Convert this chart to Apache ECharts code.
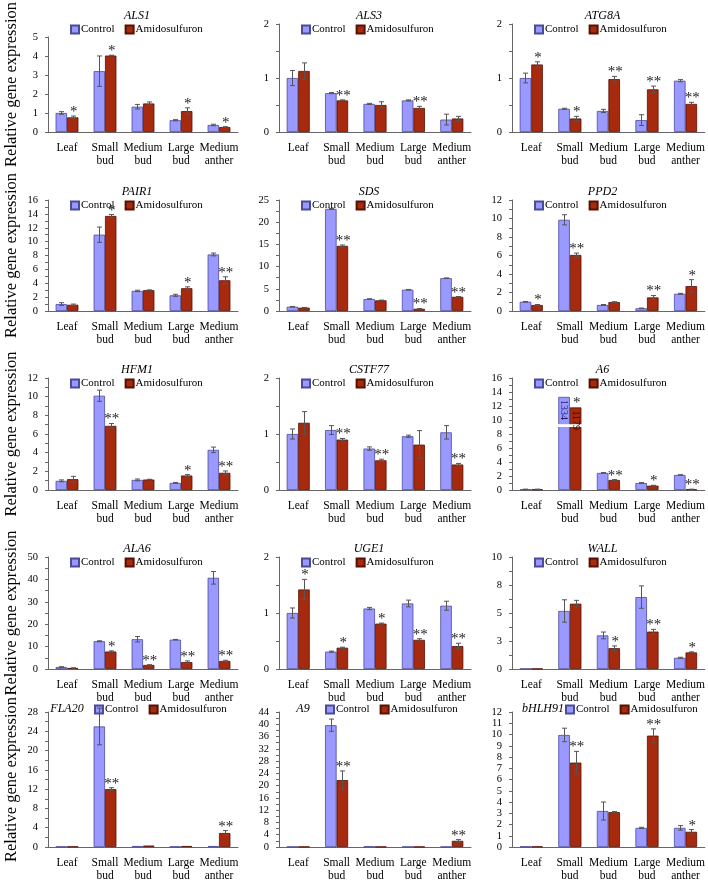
<!DOCTYPE html>
<html><head><meta charset="utf-8">
<script src="https://cdn.jsdelivr.net/npm/echarts@6/dist/echarts.min.js"></script>
<style>html,body{margin:0;padding:0;background:#fff}#main{width:708px;height:884px}</style>
</head><body><div id="main"></div>
<script>
const categories = ['Leaf', 'Small\nbud', 'Medium\nbud', 'Large\nbud', 'Medium\nanther'];
const seriesNames = ['Control', 'Amidosulfuron'];
const genes = ['ALS1','ALS3','ATG8A','PAIR1','SDS','PPD2','HFM1','CSTF77','A6','ALA6','UGE1','WALL','FLA20','A9','bHLH91'];
const yMax      = [5, 2, 2, 16, 25, 12, 12, 2, 16, 50, 2, 10, 28, 44, 12];
const yInterval = [1, 1, 1, 2, 5, 2, 2, 1, 2, 10, 1, 2.5, 4, 4, 1];
const yMinor    = [1, 2, 2, 2, 2, 2, 2, 2, 2, 2, 2, 2, 2, 2, 1];

const ALS1_control = [1.0, 3.2, 1.33, 0.62, 0.37];
const ALS1_controlErr = [0.07, 0.8, 0.12, 0.03, 0.04];
const ALS1_amido = [0.77, 4.02, 1.5, 1.1, 0.26];
const ALS1_amidoErr = [0.07, 0.02, 0.08, 0.17, 0.02];
const ALS1_stars = ['*', '*', '', '*', '*'];

const ALS3_control = [1.0, 0.72, 0.52, 0.585, 0.23];
const ALS3_controlErr = [0.14, 0.01, 0.01, 0.01, 0.1];
const ALS3_amido = [1.13, 0.585, 0.5, 0.445, 0.25];
const ALS3_amidoErr = [0.15, 0.01, 0.06, 0.03, 0.04];
const ALS3_stars = ['', '**', '', '**', ''];

const ATG8A_control = [1.0, 0.43, 0.39, 0.22, 0.95];
const ATG8A_controlErr = [0.09, 0.01, 0.03, 0.1, 0.02];
const ATG8A_amido = [1.25, 0.25, 0.98, 0.79, 0.52];
const ATG8A_amidoErr = [0.05, 0.04, 0.05, 0.06, 0.03];
const ATG8A_stars = ['*', '*', '**', '**', '**'];

const PAIR1_control = [1.0, 11.0, 2.9, 2.26, 8.15];
const PAIR1_controlErr = [0.2, 1.1, 0.1, 0.15, 0.2];
const PAIR1_amido = [0.9, 13.7, 3.0, 3.28, 4.43];
const PAIR1_amidoErr = [0.1, 0.2, 0.05, 0.2, 0.5];
const PAIR1_stars = ['', '*', '', '*', '**'];

const SDS_control = [0.97, 23.0, 2.7, 4.8, 7.4];
const SDS_controlErr = [0.05, 0.1, 0.05, 0.05, 0.05];
const SDS_amido = [0.75, 14.67, 2.4, 0.5, 3.2];
const SDS_amidoErr = [0.05, 0.2, 0.05, 0.05, 0.05];
const SDS_stars = ['', '**', '', '**', '**'];

const PPD2_control = [1.0, 9.86, 0.65, 0.29, 1.86];
const PPD2_controlErr = [0.03, 0.55, 0.05, 0.03, 0.05];
const PPD2_amido = [0.65, 6.06, 0.97, 1.47, 2.69];
const PPD2_amidoErr = [0.05, 0.2, 0.03, 0.2, 0.7];
const PPD2_stars = ['*', '**', '', '**', '*'];

const HFM1_control = [0.98, 10.1, 1.08, 0.76, 4.3];
const HFM1_controlErr = [0.1, 0.6, 0.1, 0.05, 0.3];
const HFM1_amido = [1.16, 6.87, 1.12, 1.55, 1.84];
const HFM1_amidoErr = [0.3, 0.25, 0.03, 0.1, 0.2];
const HFM1_stars = ['', '**', '', '*', '**'];

const CSTF77_control = [1.0, 1.07, 0.74, 0.96, 1.03];
const CSTF77_controlErr = [0.09, 0.08, 0.03, 0.02, 0.12];
const CSTF77_amido = [1.2, 0.9, 0.53, 0.81, 0.455];
const CSTF77_amidoErr = [0.2, 0.02, 0.02, 0.25, 0.02];
const CSTF77_stars = ['', '**', '**', '', '**'];

const A6_control = [0.1, 13.3, 2.44, 1.0, 2.15];
const A6_controlErr = [0.02, 0, 0.05, 0.05, 0.03];
const A6_amido = [0.1, 11.8, 1.43, 0.62, 0.1];
const A6_amidoErr = [0.02, 0, 0.05, 0.05, 0.02];
const A6_stars = ['', '*', '**', '*', '**'];
const A6_controlLabels = ['', '1334', '', '', ''];
const A6_amidoLabels = ['', '1179', '', '', ''];
const A6_breakRange = [9.0, 9.4];

const ALA6_control = [0.9, 12.4, 13.3, 13.1, 40.7];
const ALA6_controlErr = [0.1, 0.2, 1.2, 0.1, 2.8];
const ALA6_amido = [0.45, 7.8, 1.8, 3.1, 3.6];
const ALA6_amidoErr = [0.05, 0.3, 0.1, 0.5, 0.3];
const ALA6_stars = ['', '*', '**', '**', '**'];

const UGE1_control = [1.0, 0.31, 1.08, 1.17, 1.13];
const UGE1_controlErr = [0.09, 0.01, 0.02, 0.06, 0.08];
const UGE1_amido = [1.42, 0.38, 0.81, 0.52, 0.41];
const UGE1_amidoErr = [0.18, 0.01, 0.01, 0.02, 0.05];
const UGE1_stars = ['*', '*', '*', '**', '**'];

const WALL_control = [0.03, 5.18, 3.0, 6.42, 1.0];
const WALL_controlErr = [0, 1.0, 0.3, 1.0, 0.05];
const WALL_amido = [0.03, 5.83, 1.86, 3.34, 1.48];
const WALL_amidoErr = [0, 0.3, 0.2, 0.2, 0.05];
const WALL_stars = ['', '', '*', '**', '*'];

const FLA20_control = [0.1, 25.0, 0.2, 0.1, 0.2];
const FLA20_controlErr = [0, 3.8, 0, 0, 0];
const FLA20_amido = [0.1, 12.0, 0.3, 0.2, 2.9];
const FLA20_amidoErr = [0, 0.3, 0, 0, 0.5];
const FLA20_stars = ['', '**', '', '', '**'];

const A9_control = [0.1, 39.7, 0.2, 0.1, 0.1];
const A9_controlErr = [0, 2.0, 0, 0, 0];
const A9_amido = [0.1, 21.8, 0.1, 0.1, 2.0];
const A9_amidoErr = [0, 3.0, 0, 0, 0.4];
const A9_stars = ['', '**', '', '', '**'];

const bHLH91_control = [0.05, 9.96, 3.2, 1.7, 1.7];
const bHLH91_controlErr = [0, 0.6, 0.8, 0.05, 0.2];
const bHLH91_amido = [0.05, 7.5, 3.1, 9.9, 1.35];
const bHLH91_amidoErr = [0, 1.0, 0.05, 0.6, 0.2];
const bHLH91_stars = ['', '**', '', '**', '*'];

const geneData = {
  ALS1: [ALS1_control, ALS1_controlErr, ALS1_amido, ALS1_amidoErr, ALS1_stars],
  ALS3: [ALS3_control, ALS3_controlErr, ALS3_amido, ALS3_amidoErr, ALS3_stars],
  ATG8A: [ATG8A_control, ATG8A_controlErr, ATG8A_amido, ATG8A_amidoErr, ATG8A_stars],
  PAIR1: [PAIR1_control, PAIR1_controlErr, PAIR1_amido, PAIR1_amidoErr, PAIR1_stars],
  SDS: [SDS_control, SDS_controlErr, SDS_amido, SDS_amidoErr, SDS_stars],
  PPD2: [PPD2_control, PPD2_controlErr, PPD2_amido, PPD2_amidoErr, PPD2_stars],
  HFM1: [HFM1_control, HFM1_controlErr, HFM1_amido, HFM1_amidoErr, HFM1_stars],
  CSTF77: [CSTF77_control, CSTF77_controlErr, CSTF77_amido, CSTF77_amidoErr, CSTF77_stars],
  A6: [A6_control, A6_controlErr, A6_amido, A6_amidoErr, A6_stars],
  ALA6: [ALA6_control, ALA6_controlErr, ALA6_amido, ALA6_amidoErr, ALA6_stars],
  UGE1: [UGE1_control, UGE1_controlErr, UGE1_amido, UGE1_amidoErr, UGE1_stars],
  WALL: [WALL_control, WALL_controlErr, WALL_amido, WALL_amidoErr, WALL_stars],
  FLA20: [FLA20_control, FLA20_controlErr, FLA20_amido, FLA20_amidoErr, FLA20_stars],
  A9: [A9_control, A9_controlErr, A9_amido, A9_amidoErr, A9_stars],
  bHLH91: [bHLH91_control, bHLH91_controlErr, bHLH91_amido, bHLH91_amidoErr, bHLH91_stars]
};

const FONT = "'Liberation Serif', 'Times New Roman', serif";
const colLeft = [48, 279, 512];
const colRight = [238, 471, 705];
const rowTop = [24, 200, 378, 557, 712];
const rowBottom = [132, 311, 490, 669, 847];
const lastTitleX = [62, 298, 538];
const lastLegendX = [89, 320, 560];
const CTRL_COLOR = '#9999FF', CTRL_BORDER = '#4b4b9a';
const AMI_COLOR = '#A82A0E', AMI_BORDER = '#561004';
const BAR_FRAC = 0.3;

const chart = echarts.init(document.getElementById('main'), null, {renderer: 'canvas'});
const grid = [], xAxis = [], yAxis = [], series = [], title = [], legend = [];

genes.forEach((g, i) => {
  const r = Math.floor(i / 3), c = i % 3;
  const last = r === 4;
  const [ctrl, ctrlErr, ami, amiErr, stars] = geneData[g];
  grid.push({left: colLeft[c], width: colRight[c] - colLeft[c], top: rowTop[r], height: rowBottom[r] - rowTop[r]});
  title.push({text: g, left: last ? lastTitleX[c] : (colLeft[c] + colRight[c]) / 2 - 11, top: last ? 698 : rowTop[r] - 19, textAlign: 'center',
    textStyle: {fontFamily: FONT, fontStyle: 'italic', fontWeight: 'normal', fontSize: 12, color: '#000'}});
  legend.push({data: seriesNames, left: last ? lastLegendX[c] : colLeft[c] + 17, top: last ? 699 : rowTop[r] - 5, icon: 'rect', itemWidth: 8, itemHeight: 8,
    itemGap: 10, textStyle: {fontFamily: FONT, fontSize: 11, color: '#000', padding: [0, 0, 0, -3]}});
  xAxis.push({type: 'category', gridIndex: i, data: categories,
    axisTick: {show: false}, axisLine: {lineStyle: {color: '#666', width: 1}},
    axisLabel: {interval: 0, color: '#000', fontFamily: FONT, fontSize: 11.5, lineHeight: 13, margin: 9}});
  yAxis.push({type: 'value', gridIndex: i, min: 0, max: yMax[i], interval: yInterval[i],
    splitLine: {show: false},
    axisLine: {show: true, lineStyle: {color: '#666', width: 1}},
    axisTick: {show: true, length: 3, lineStyle: {color: '#666'}},
    minorTick: {show: yMinor[i] > 1, splitNumber: yMinor[i], length: 3, lineStyle: {color: '#666'}},
    axisLabel: {color: '#000', fontFamily: FONT, fontSize: 10.5, margin: 10,
      formatter: v => String(Math.round(v))},
    name: c === 0 ? 'Relative gene expression' : '', nameLocation: 'middle', nameGap: 28,
    nameTextStyle: {fontFamily: FONT, fontSize: 16.5, color: '#000'}});

  series.push({type: 'bar', name: 'Control', xAxisIndex: i, yAxisIndex: i, barWidth: '30%', barGap: '0%',
    itemStyle: {color: CTRL_COLOR, borderColor: CTRL_BORDER, borderWidth: 0.8},
    data: ctrl.slice(), z: 2});
  series.push({type: 'bar', name: 'Amidosulfuron', xAxisIndex: i, yAxisIndex: i, barWidth: '30%', barGap: '0%',
    itemStyle: {color: AMI_COLOR, borderColor: AMI_BORDER, borderWidth: 0.8},
    data: ami.slice(), z: 2});

  if (g === 'A6') {
    series.push({type: 'custom', xAxisIndex: i, yAxisIndex: i, z: 5, silent: true,
      data: [[1, A6_breakRange[0], A6_breakRange[1]]],
      renderItem: (params, api) => {
        const band = api.size([1, 0])[0];
        const cx = api.coord([api.value(0), 0])[0];
        const y1 = api.coord([api.value(0), api.value(1)])[1];
        const y2 = api.coord([api.value(0), api.value(2)])[1];
        const w = band * BAR_FRAC * 2 + 4;
        return {type: 'rect', shape: {x: cx - w / 2, y: y2, width: w, height: y1 - y2}, style: {fill: '#fff'}};
      }});
    series.push({type: 'custom', xAxisIndex: i, yAxisIndex: i, z: 6, silent: true,
      data: [[1, ctrl[1], 0], [1, ami[1], 1]],
      renderItem: (params, api) => {
        const k = api.value(0), side = api.value(2);
        const band = api.size([1, 0])[0];
        const bw = band * BAR_FRAC;
        const x = api.coord([k, 0])[0] + (side === 0 ? -bw / 2 : bw / 2);
        const y = api.coord([k, api.value(1)])[1];
        const txt = side === 0 ? A6_controlLabels[k] : A6_amidoLabels[k];
        return {type: 'text', x: x, y: y + 3, rotation: -Math.PI / 2,
          style: {text: txt, fill: side === 0 ? '#1a1a66' : '#2a0500', font: '10px ' + FONT, textAlign: 'left', textVerticalAlign: 'middle'}};
      }});
  }

  const ed = [];
  ctrl.forEach((v, k) => { ed.push([k, v, ctrlErr[k], 0]); ed.push([k, ami[k], amiErr[k], 1]); });
  series.push({type: 'custom', xAxisIndex: i, yAxisIndex: i, z: 4, silent: true, data: ed,
    renderItem: (params, api) => {
      const k = api.value(0), v = api.value(1), e = api.value(2), side = api.value(3);
      if (!(e > 0)) return null;
      const band = api.size([1, 0])[0];
      const bw = band * BAR_FRAC;
      const x = Math.round(api.coord([k, 0])[0] + (side === 0 ? -bw / 2 : bw / 2)) + 0.5;
      const yt = api.coord([k, v + e])[1];
      const yb = api.coord([k, Math.max(v - e, 0)])[1];
      const st = {stroke: '#555', lineWidth: 1};
      return {type: 'group', children: [
        {type: 'line', shape: {x1: x, y1: yt, x2: x, y2: yb}, style: st},
        {type: 'line', shape: {x1: x - 2.5, y1: yt, x2: x + 2.5, y2: yt}, style: st},
        {type: 'line', shape: {x1: x - 2.5, y1: yb, x2: x + 2.5, y2: yb}, style: st}
      ]};
    }});
  const sd = [];
  ami.forEach((v, k) => { if (stars[k]) sd.push([k, v + amiErr[k], stars[k].length]); });
  series.push({type: 'custom', xAxisIndex: i, yAxisIndex: i, z: 7, silent: true, data: sd,
    renderItem: (params, api) => {
      const k = api.value(0), top = api.value(1), n = api.value(2);
      const band = api.size([1, 0])[0];
      const bw = band * BAR_FRAC;
      const x = api.coord([k, 0])[0] + bw / 2 + 1;
      const y = api.coord([k, top])[1];
      return {type: 'text', x: x, y: y - 4,
        style: {text: '*'.repeat(n), fill: '#222', font: '15px ' + FONT, textAlign: 'center', textVerticalAlign: 'middle'}};
    }});
});

chart.setOption({animation: false, backgroundColor: '#fff', title, legend, grid, xAxis, yAxis, series});
</script></body></html>
